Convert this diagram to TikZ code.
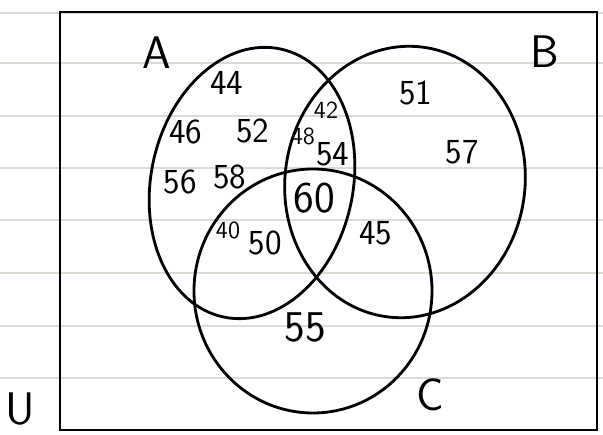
\documentclass[tikz,border=0pt]{standalone}
\usepackage{tikz}
\usetikzlibrary{positioning}

\begin{document}
\begin{tikzpicture}[
      x=0.02cm, y=0.02cm,
      ruling/.style={draw=brown!30!gray!30, line width=0.7pt},
      setline/.style={draw=black, line width=1.6pt},
      setname/.style={font=\sffamily\fontsize{26}{26}\selectfont},
      elem/.style={font=\sffamily\fontsize{20}{20}\selectfont},
      small/.style={font=\sffamily\fontsize{14}{14}\selectfont},
      big/.style={font=\sffamily\fontsize{25}{25}\selectfont}
    ]
      \useasboundingbox (0,0) rectangle (603,434);
      % lined paper
      \foreach \y in {421,371,318,266,214,161,108,56} {
        \draw[ruling] (0,\y) -- (603,\y);
      }
      % universe
      \draw[setline] (60,4) rectangle (597,422);
      \node[setname] (U) at (20,25) {U};
      % the three sets
      \draw[setline, rotate around={-12:(252,251)}] (252,251) ellipse [x radius=101, y radius=137];
      \draw[setline, rotate around={-8:(405,252)}] (405,252) ellipse [x radius=120, y radius=136];
      \draw[setline] (313,143) ellipse [x radius=119, y radius=122];
      \node[setname] (A) at (157,381) {A};
      \node[setname] (B) at (545,382) {B};
      \node[setname] (C) at (430,39) {C};
      % only A
      \node[elem] (a44) at (227,351) {44};
      \node[elem] (a46) at (186,302) {46};
      \node[elem] (a52) at (253,303) {52};
      \node[elem] (a56) at (180,252) {56};
      \node[elem] (a58) at (230,257) {58};
      % A and B
      \node[small] (ab42) at (326,324) {42};
      \node[small] (ab48) at (303,298) {48};
      \node[elem] (ab54) at (333,280) {54};
      % A, B and C
      \node[big] (abc60) at (314,236) {60};
      % A and C
      \node[small] (ac40) at (228,204) {40};
      \node[elem] (ac50) at (265,191) {50};
      % B and C
      \node[elem] (bc45) at (376,201) {45};
      % only B
      \node[elem] (b51) at (416,341) {51};
      \node[elem] (b57) at (462,282) {57};
      % only C
      \node[big] (c55) at (305,107) {55};
    \end{tikzpicture}
\end{document}
